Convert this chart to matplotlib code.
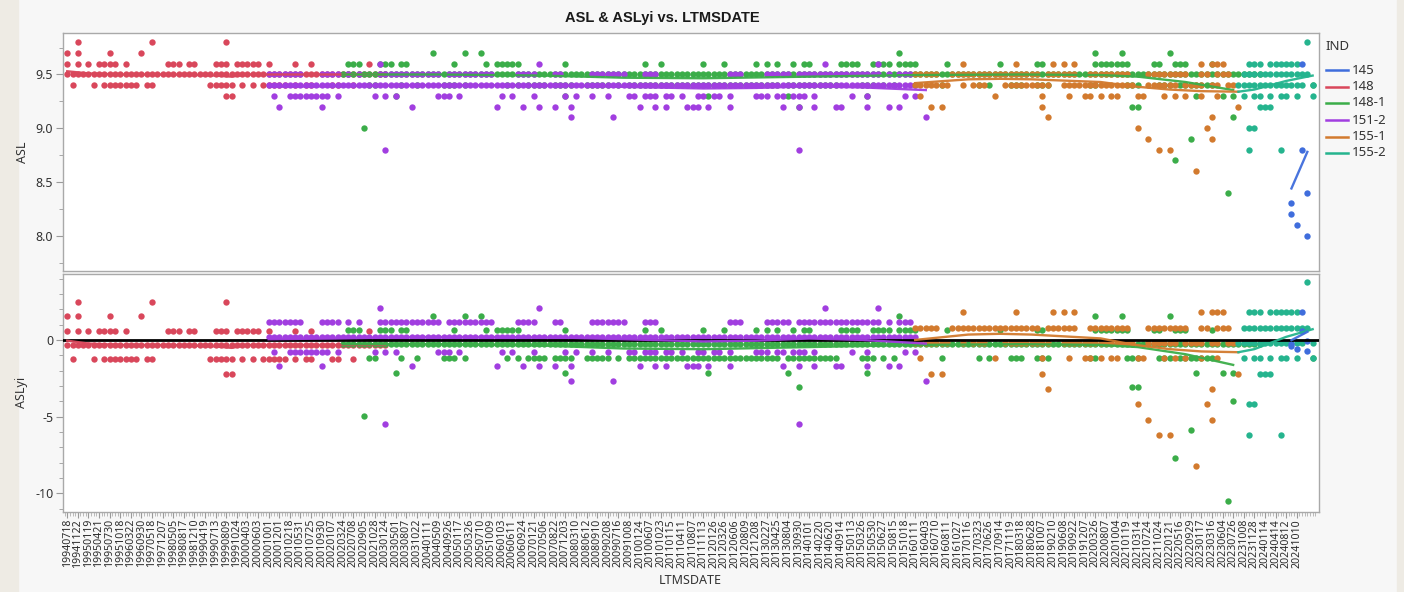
import matplotlib
matplotlib.use('Agg')
import matplotlib.pyplot as plt
from matplotlib.lines import Line2D
from matplotlib.patches import Rectangle
import numpy as np

plt.rcParams['font.family'] = ['Noto Sans', 'DejaVu Sans']

W, H = 1404, 592

# ---------------- x axis categories (labels every 2nd category) ----------------
date_labels = ['19940718','19941122','19950119','19950421','19950730','19951018','19960322','19960930',
 '19970518','19971207','19980505','19980817','19981210','19990419','19990713','19990809','19991024',
 '20000403','20000603','20001001','20001201','20010218','20010531','20010725','20010930','20020107',
 '20020324','20020708','20020905','20021028','20030124','20030501','20030807','20031022','20040111',
 '20040509','20040926','20050117','20050326','20050710','20051009','20060103','20060611','20060924',
 '20070121','20070506','20070822','20071203','20080310','20080612','20080910','20090208','20090716',
 '20091008','20100124','20100607','20101023','20110115','20110411','20110807','20111113','20120126',
 '20120326','20120606','20120809','20121208','20130227','20130425','20130804','20130930','20140101',
 '20140220','20140620','20140914','20150113','20150326','20150530','20150627','20150815','20151018',
 '20160111','20160403','20160710','20160811','20161027','20170116','20170323','20170626','20170914',
 '20171119','20180318','20180628','20181007','20190210','20190608','20190922','20191207','20200326',
 '20200807','20201004','20210119','20210314','20210724','20211024','20220121','20220516','20220929',
 '20230117','20230316','20230604','20230726','20231008','20231128','20240114','20240414','20240812',
 '20241010']
n_categories = 236

# ---------------- IND 148 (red): category indices per ASL level ----------------
red_98 = [2, 16, 30]
red_97 = [0, 2, 8, 14]
red_96 = [0, 2, 4, 6, 7, 8, 9, 11, 19, 20, 21, 23, 24, 28, 29, 30, 32, 33, 34, 35, 36, 38, 43, 46, 57]
red_95 = [0,1,2,3,4,5,6,7,8,9,10,11,12,13,14,15,16,17,18,19,20,21,22,23,24,25,26,27,28,29,30,
          31,32,33,34,35,36,37,38,39,40,41,42,43,44,45,46,47,48,49,50,51,52,53,54,55,56,57,58,59,60]
red_94 = [1, 5, 7, 8, 9, 10, 11, 12, 13, 15, 16, 27, 28, 29, 30, 31, 33, 35, 37, 38, 39, 40, 41,
          43, 45, 46, 50, 51, 54]
red_93 = [30, 31]

# ---------------- IND 151-2 (purple) ----------------
purple_96 = [59, 89, 143, 153]
purple_95 = [38,39,40,41,42,43,44,48,49,50,51,53,55,59,60,61,62,63,64,65,66,67,68,69,70,72,73,74,
             75,76,77,78,79,80,85,86,87,88,92,93,99,100,101,102,103,104,105,109,110,111,125,126,127,
             132,133,134,135,136,138,139,140,141,142,143,144,145,146,147,148,149,150,151,152,153,155,
             157,158,159]
purple_94 = [38,39,40,41,42,43,44,45,46,47,48,49,50,51,52,53,54,55,56,57,58,59,60,61,62,63,64,65,
             66,67,68,69,70,71,72,73,74,75,76,77,78,79,80,81,82,83,84,85,86,87,88,89,90,91,92,93,
             94,95,96,97,98,99,100,101,102,103,104,105,106,107,108,109,110,111,112,113,114,115,116,
             117,118,119,120,121,122,123,124,125,126,127,128,129,130,131,132,133,134,135,136,137,138,
             139,140,141,142,143,144,145,146,147,148,149,150,151,152,153,154,155,156,157,158,159,160]
purple_93 = [39,42,43,44,45,46,47,48,49,51,58,60,62,70,71,72,74,82,84,88,94,96,99,102,106,107,109,
             110,111,113,114,116,119,120,122,123,125,130,131,132,134,135,137,138,139,141,148,151,158,160]
purple_92 = [40,48,65,81,86,89,92,95,108,111,113,117,118,119,121,125,135,138,141,145,146,151,155,157]
purple_91 = [95, 103, 162]
purple_88 = [60, 138]

# ---------------- IND 148-1 (green) ----------------
green_97 = [69, 75, 78, 157, 194, 199, 208]
green_96 = [53,54,55,59,60,61,63,64,73,79,81,82,83,84,85,94,109,112,120,124,130,132,134,137,139,
            140,146,147,148,149,152,153,154,155,157,158,159,160,166,176,183,184,194,195,196,197,198,
            199,200,205,206,209,210,211,216]
green_95 = [52,53,54,55,56,57,58,59,60,61,62,63,64,65,66,67,68,69,70,71,72,73,74,75,76,77,78,79,
            80,81,82,83,84,85,86,87,88,89,90,91,92,93,94,95,96,97,98,99,100,101,102,103,104,105,
            106,107,108,109,110,111,112,113,114,115,116,117,118,119,120,121,122,123,124,125,126,127,
            128,129,130,131,132,133,134,135,136,137,138,139,140,141,142,143,144,145,146,147,148,149,
            150,151,152,153,154,155,156,157,158,159,160,161,162,163,164,165,166,167,168,169,170,171,
            172,173,174,175,176,177,178,179,180,181,182,183,184,185,186,187,188,189,190,191,192,193,
            194,195,196,197,198,199,200,201,202,203,204,205,206,207,208,209,210,211,212,213,214,215,
            216,217,218,219,220,221,222,223,224,225]
green_94 = [57,58,63,66,71,72,73,75,83,85,87,88,89,90,92,93,94,95,98,99,100,101,102,104,106,107,
            108,109,110,111,112,113,114,115,116,117,118,119,120,121,122,123,124,125,126,127,128,129,
            130,131,132,133,134,136,137,138,139,140,141,142,143,144,145,150,151,152,154,156,165,172,
            174,178,179,180,183,184,185,193,194,200,201,202,206,207,208,210,211,212,213,214,215,216,235]
green_93 = [62, 94, 121, 136, 151, 213, 218, 220]
green_92 = [138, 201, 202]
green_91 = [220]
green_90 = [56]
green_89 = [212]
green_87 = [209]
green_84 = [219]

# ---------------- IND 155-1 (orange) ----------------
orange_96 = [169, 179, 186, 188, 190, 214, 216, 217, 218]
orange_95 = [160,161,162,163,164,167,168,169,170,171,172,173,174,175,176,177,178,179,180,181,182,
             183,185,186,187,188,189,190,193,194,195,196,197,198,199,200,204,205,206,207,208,209,210,
             211,214,215,217,218,219]
orange_94 = [160,161,162,163,164,165,166,169,171,172,173,177,178,179,180,181,182,183,184,185,188,
             189,190,191,192,193,194,195,196,197,198,199,200,201,204,205,206,207,208,209,211,212,213,
             214,216,217,219,220]
orange_93 = [161,175,184,189,192,193,195,197,198,202,203,207,209,211,214,217]
orange_92 = [163, 165, 184, 221]
orange_91 = [185, 216]
orange_90 = [202, 215]
orange_89 = [204, 216]
orange_88 = [206, 208]
orange_86 = [213]

# ---------------- IND 155-2 (teal) ----------------
teal_98 = [234]
teal_96 = [223, 224, 225, 227, 228, 229, 230, 231, 232]
teal_95 = [222, 223, 224, 225, 226, 227, 228, 229, 230, 231, 232, 233, 234]
teal_94 = [221, 222, 223, 224, 225, 226, 227, 228, 229, 230, 231, 232, 233, 235]
teal_93 = [222, 224, 225, 227, 229, 230, 232, 235]
teal_92 = [225, 226, 227]
teal_90 = [223, 224]
teal_88 = [223, 229]

# ---------------- IND 145 (blue) ----------------
blue_idx = [231, 231, 232, 233, 233, 234, 234]
blue_asl = [8.3, 8.2, 8.1, 8.8, 9.6, 8.4, 8.0]

# ---------------- smoother lines ----------------
red_fit_idx = [0, 4, 10, 20, 28, 31, 34, 45, 60]
red_fit_asl = [9.53, 9.51, 9.50, 9.50, 9.49, 9.48, 9.50, 9.50, 9.50]
purple_fit_idx = [38, 50, 65, 80, 95, 110, 120, 130, 140, 150, 162]
purple_fit_asl = [9.385, 9.39, 9.40, 9.40, 9.395, 9.38, 9.37, 9.375, 9.39, 9.38, 9.355]
green_fit_idx = [52, 70, 90, 105, 120, 140, 160, 180, 195, 202, 211, 220]
green_fit_asl = [9.50, 9.50, 9.49, 9.47, 9.465, 9.48, 9.495, 9.50, 9.495, 9.48, 9.43, 9.355]
orange_fit_idx = [160, 170, 176, 182, 195, 201, 208, 214, 221]
orange_fit_asl = [9.42, 9.455, 9.46, 9.455, 9.43, 9.39, 9.36, 9.345, 9.34]
teal_fit_idx = [221, 224, 227, 230, 233, 235]
teal_fit_asl = [9.34, 9.36, 9.40, 9.44, 9.47, 9.49]
blue_fit_idx = [231, 234]
blue_fit_asl = [8.44, 8.78]

# ASLyi per IND: standardisation (centre, scale)
ind_names = ['145', '148', '148-1', '151-2', '155-1', '155-2']
yi_center = [8.45, 9.535, 9.53, 9.38, 9.42, 9.42]
yi_scale = [1.6, 9.4, 9.3, 9.5, 10.0, 10.0]

colors = {'145': '#3f6ddc', '148': '#d9475b', '148-1': '#3bad49', '151-2': '#a13ee0',
          '155-1': '#d27a2e', '155-2': '#25b48e'}


def collect(levels):
    xs, ys = [], []
    for val, idxs in levels:
        xs += list(idxs)
        ys += [val] * len(idxs)
    return np.array(xs, float), np.array(ys, float)


series = {
    '148': collect([(9.8, red_98), (9.7, red_97), (9.6, red_96), (9.5, red_95), (9.4, red_94), (9.3, red_93)]),
    '148-1': collect([(9.7, green_97), (9.6, green_96), (9.5, green_95), (9.4, green_94), (9.3, green_93),
                      (9.2, green_92), (9.1, green_91), (9.0, green_90), (8.9, green_89), (8.7, green_87),
                      (8.4, green_84)]),
    '151-2': collect([(9.6, purple_96), (9.5, purple_95), (9.4, purple_94), (9.3, purple_93),
                      (9.2, purple_92), (9.1, purple_91), (8.8, purple_88)]),
    '155-1': collect([(9.6, orange_96), (9.5, orange_95), (9.4, orange_94), (9.3, orange_93),
                      (9.2, orange_92), (9.1, orange_91), (9.0, orange_90), (8.9, orange_89),
                      (8.8, orange_88), (8.6, orange_86)]),
    '155-2': collect([(9.8, teal_98), (9.6, teal_96), (9.5, teal_95), (9.4, teal_94), (9.3, teal_93),
                      (9.2, teal_92), (9.0, teal_90), (8.8, teal_88)]),
    '145': (np.array(blue_idx, float), np.array(blue_asl, float)),
}
fits = {
    '148': (red_fit_idx, red_fit_asl), '151-2': (purple_fit_idx, purple_fit_asl),
    '148-1': (green_fit_idx, green_fit_asl), '155-1': (orange_fit_idx, orange_fit_asl),
    '155-2': (teal_fit_idx, teal_fit_asl), '145': (blue_fit_idx, blue_fit_asl),
}

# ---------------- figure ----------------
fig = plt.figure(figsize=(W / 100, H / 100), dpi=100)
fig.patch.set_facecolor('#f7f7f7')
fig.add_artist(Rectangle((0, 0), 18 / W, 1, transform=fig.transFigure, color='#eeebe4', zorder=0))
fig.add_artist(Rectangle((1397 / W, 0), 7 / W, 1, transform=fig.transFigure, color='#eeebe4', zorder=0))

L, R = 63, 1319
ax1 = fig.add_axes([L / W, 1 - 271 / H, (R - L) / W, (271 - 33) / H])
ax2 = fig.add_axes([L / W, 1 - 512 / H, (R - L) / W, (512 - 274) / H])

draw_order = ['148', '148-1', '151-2', '155-1', '155-2', '145']
for name in draw_order:
    xs, ys = series[name]
    k = ind_names.index(name)
    yi = (ys - yi_center[k]) * yi_scale[k]
    ax1.scatter(xs, ys, s=21, color=colors[name], linewidths=0, zorder=3)
    ax2.scatter(xs, yi, s=21, color=colors[name], linewidths=0, zorder=3)

ax2.axhline(0, color='black', lw=2.0, zorder=4)

for name in draw_order:
    fx, fy = fits[name]
    k = ind_names.index(name)
    fy = np.array(fy, float)
    ax1.plot(fx, fy, color=colors[name], lw=1.7, zorder=5, alpha=0.95)
    ax2.plot(fx, (fy - yi_center[k]) * yi_scale[k], color=colors[name], lw=1.7, zorder=5, alpha=0.95)

for ax in (ax1, ax2):
    ax.set_facecolor('white')
    ax.set_xlim(-0.8, 236.2)
    for sp in ax.spines.values():
        sp.set_color('#a9a9a9')
        sp.set_linewidth(1.0)
    ax.tick_params(axis='y', which='major', length=5, color='#9a9a9a', labelsize=9,
                   labelcolor='#333333', pad=2)
    ax.tick_params(axis='y', which='minor', length=3, color='#9a9a9a')

ax1.set_ylim(7.672, 9.886)
ax1.set_yticks([8.0, 8.5, 9.0, 9.5])
ax1.set_yticklabels(['8.0', '8.5', '9.0', '9.5'])
ax1.set_yticks([7.75, 8.25, 8.75, 9.25, 9.75], minor=True)
ax1.set_xticks([])

ax2.set_ylim(-11.22, 4.3)
ax2.set_yticks([-10, -5, 0])
ax2.set_yticklabels(['-10', '-5', '0'])
ax2.set_yticks([v for v in range(-11, 5) if v % 5 != 0], minor=True)
tick_pos = [2 * k for k in range(len(date_labels))]
ax2.set_xticks(tick_pos)
ax2.set_xticklabels(date_labels, rotation=90, fontsize=7.6, color='#2a2a2a')
ax2.set_xticks([p + 0.5 * j for p in range(-1, n_categories) for j in (0, 1)
                if -0.8 <= p + 0.5 * j <= 236.2], minor=True)
ax2.tick_params(axis='x', which='major', length=4, color='#9a9a9a', pad=1)
ax2.tick_params(axis='x', which='minor', length=3, color='#b0b0b0')

# titles / labels
fig.text(662 / W, 1 - 18 / H, 'ASL & ASLyi vs. LTMSDATE', ha='center', va='center',
         fontsize=10.5, fontweight='bold', color='#1a1a1a', family=['Liberation Sans', 'DejaVu Sans'])
fig.text(22 / W, 1 - 152 / H, 'ASL', rotation=90, ha='center', va='center', fontsize=9, color='#333333')
fig.text(22 / W, 1 - 392 / H, 'ASLyi', rotation=90, ha='center', va='center', fontsize=9, color='#333333')
fig.text(690 / W, 1 - 580 / H, 'LTMSDATE', ha='center', va='center', fontsize=9, color='#333333')

# legend
fig.text(1325 / W, 1 - 47 / H, 'IND', ha='left', va='center', fontsize=9.5, color='#333333')
leg_y = [70, 87, 103, 120, 137, 153]
for name, yy in zip(ind_names, leg_y):
    fig.add_artist(Line2D([1326 / W, 1348 / W], [1 - yy / H, 1 - yy / H], transform=fig.transFigure,
                          color=colors[name], lw=1.8))
    fig.text(1352 / W, 1 - yy / H, name, ha='left', va='center', fontsize=9.5, color='#333333')

fig.savefig('out.png', dpi=100, facecolor=fig.get_facecolor())
